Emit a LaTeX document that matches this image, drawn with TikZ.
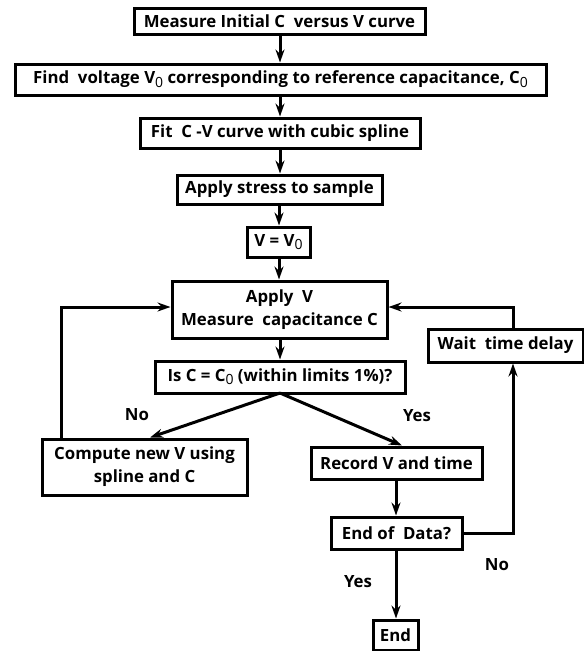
\documentclass[tikz,border=0pt]{standalone}
\usepackage{fontspec}
\setmainfont{Open Sans}
\usetikzlibrary{arrows.meta}
\newcommand{\zsub}{\raisebox{-0.35ex}{\fontsize{14}{14}\selectfont\mdseries 0}}
\begin{document}
\begin{tikzpicture}[x=1pt,y=-1pt,
  box/.style={draw, line width=3pt, inner sep=0pt, align=center,
    font=\fontsize{16.8}{23}\selectfont\bfseries},
  lab/.style={font=\fontsize{16.8}{20}\selectfont\bfseries},
  conn/.style={line width=3pt},
  arr/.style={conn, -{Stealth[length=13pt,width=9pt]}}]
\useasboundingbox (0,0) rectangle (584,651);
\node[box, minimum width=291pt, minimum height=26pt] (b1) at (279.5,21) {Measure Initial C\ \ versus V curve};
\node[box, minimum width=531pt, minimum height=31pt] (b2) at (280.5,79.5) {Find\ \ voltage V\zsub\ corresponding to reference capacitance, C\zsub};
\node[box, minimum width=280pt, minimum height=30pt] (b3) at (280,133) {Fit\ \ C -V curve with cubic spline};
\node[box, minimum width=205pt, minimum height=29pt] (b4) at (279.5,189.5) {Apply stress to sample};
\node[box, minimum width=63pt, minimum height=30pt] (b5) at (278.5,242) {V = V\zsub};
\node[box, minimum width=215pt, minimum height=57pt] (b6) at (279.5,309.5) {Apply\ \ V\\Measure\ \ capacitance C};
\node[box, minimum width=250pt, minimum height=32pt] (b7) at (280,377) {Is C = C\zsub\ (within limits 1\%)?};
\node[box, minimum width=205pt, minimum height=56pt] (b8) at (144.5,467) {Compute new V using\\spline and C};
\node[box, minimum width=171pt, minimum height=32pt] (b9) at (396.5,463) {Record V and time};
\node[box, minimum width=131pt, minimum height=32pt] (b10) at (396.5,533) {End of\ \ Data?};
\node[box, minimum width=45pt, minimum height=30pt] (b11) at (395.5,635) {End};
\node[box, minimum width=155pt, minimum height=33pt] (b12) at (505.5,345.5) {Wait\ \ time delay};
\coordinate (j7) at (280,393);
\coordinate (cl) at (61,307);
\coordinate (cr) at (513,307);
\coordinate (cd) at (513,533);
\draw[arr] (b1.south -| 280,0) -- (b2.north -| 280,0);
\draw[arr] (b2.south -| 280,0) -- (b3.north -| 280,0);
\draw[arr] (b3.south -| 280,0) -- (b4.north -| 280,0);
\draw[arr] (b4.south -| 279,0) -- (b5.north -| 279,0);
\draw[arr] (b5.south -| 279,0) -- (b6.north -| 279,0);
\draw[arr] (b6.south -| 280,0) -- (b7.north -| 280,0);
\draw[arr] (j7) -- (b8.north -| 150,0);
\draw[arr] (j7) -- (b9.north -| 402,0);
\draw[arr] (b8.north -| cl) -- (cl) -- (b6.west |- cl);
\draw[arr] (b9.south -| 396,0) -- (b10.north -| 396,0);
\draw[arr] (b10.east) -- (cd) -- (b12.south -| cd);
\draw[arr] (b12.north -| cr) -- (cr) -- (b6.east |- cr);
\draw[arr] (b10.south -| 396,0) -- (b11.north -| 396,0);
\node[lab] (lno1) at (137,415) {No};
\node[lab] (lyes1) at (417,416) {Yes};
\node[lab] (lyes2) at (358,582) {Yes};
\node[lab] (lno2) at (497,565) {No};
\end{tikzpicture}
\end{document}
